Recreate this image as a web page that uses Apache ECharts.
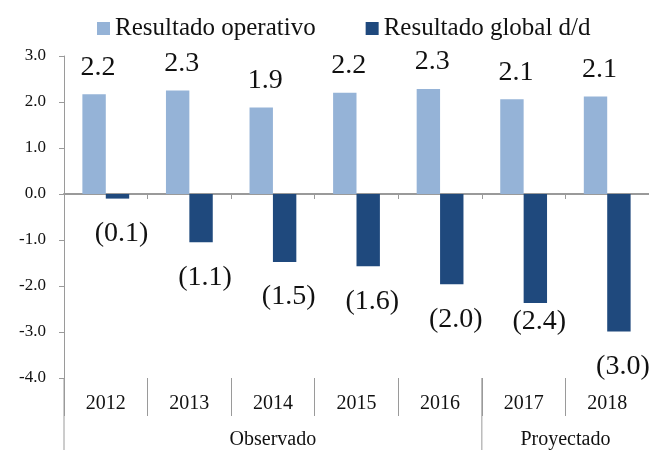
<!DOCTYPE html>
<html>
<head>
<meta charset="utf-8">
<script src="https://cdn.jsdelivr.net/npm/echarts@6/dist/echarts.min.js"></script>
<style>
    html,body{margin:0;padding:0;background:#fff;}
    #chart{width:649px;height:450px;}
</style>
</head>
<body>
<div id="chart"></div>
<script>
        var years = ["2012","2013","2014","2015","2016","2017","2018"];
        var operativo = [2.17, 2.25, 1.88, 2.20, 2.28, 2.06, 2.12];
        var globalDD = [-0.10, -1.05, -1.48, -1.57, -1.96, -2.37, -2.99];
        var seriesNames = ["Resultado operativo", "Resultado global d/d"];
        var groupNames = ["Observado", "Proyectado"];
        var yTicks = [-4, -3, -2, -1, 0, 1, 2, 3];

        var serif = "'Liberation Serif', 'DejaVu Serif', serif";
        var grey = "#9a9a9a";

        //etiqueta: negativos entre parentesis
        function fmtLabel(p){
            var v = p.value;
            if(v < 0){
                return "(" + Math.abs(v).toFixed(1) + ")";
            }
            return v.toFixed(1);
        }

        //en 2017 la etiqueta del resultado global esta subida a mano
        var globalData = globalDD.map(function(v, i){
            if(years[i] == "2017"){
                return {value: v, label: {offset: [4, -16]}};
            }
            return v;
        });

        var chart = echarts.init(document.getElementById('chart'));
        var option = {
            animation: false,
            textStyle: {fontFamily: serif},
            legend: {
                data: seriesNames,
                left: 92,
                top: 11,
                icon: 'rect',
                itemWidth: 13,
                itemHeight: 13,
                itemGap: 50,
                textStyle: {fontFamily: serif, fontSize: 25, color: '#111'}
            },
            grid: {left: 64, right: -4, top: 56, bottom: 72},
            xAxis: [
                {
                    type: 'category',
                    data: years,
                    axisLine: {onZero: true, lineStyle: {color: grey, width: 2}},
                    axisTick: {show: true, interval: 0, length: 5, lineStyle: {color: grey}},
                    axisLabel: {show: false}
                },
                {
                    type: 'category',
                    data: years,
                    position: 'bottom',
                    axisLine: {show: false, onZero: false},
                    axisTick: {show: true, interval: 0, length: 38, lineStyle: {color: grey}},
                    axisLabel: {
                        margin: 16,
                        fontFamily: serif,
                        fontSize: 20,
                        color: '#111'
                    }
                }
            ],
            yAxis: {
                type: 'value',
                min: yTicks[0],
                max: yTicks[yTicks.length - 1],
                interval: 1,
                splitLine: {show: false},
                axisLine: {show: true, lineStyle: {color: grey}},
                axisTick: {show: true, length: 5, lineStyle: {color: grey}},
                axisLabel: {
                    margin: 18,
                    fontFamily: serif,
                    fontSize: 17,
                    color: '#111',
                    formatter: function(v){ return v.toFixed(1); }
                }
            },
            series: [
                {
                    name: seriesNames[0],
                    type: 'bar',
                    data: operativo,
                    barGap: 0,
                    barCategoryGap: '44%',
                    itemStyle: {color: '#95B3D7'},
                    label: {
                        show: true,
                        position: 'top',
                        distance: 13,
                        offset: [4, 0],
                        fontFamily: serif,
                        fontSize: 28,
                        color: '#111',
                        formatter: fmtLabel
                    }
                },
                {
                    name: seriesNames[1],
                    type: 'bar',
                    data: globalData,
                    barGap: 0,
                    barCategoryGap: '44%',
                    itemStyle: {color: '#1F497D'},
                    label: {
                        show: true,
                        position: 'bottom',
                        distance: 21,
                        offset: [4, 0],
                        fontFamily: serif,
                        fontSize: 28,
                        color: '#111',
                        formatter: fmtLabel
                    }
                }
            ]
        };
        chart.setOption(option);

        //etiquetas de grupo y separadores largos, ubicados con la escala del eje
        function drawGroups(){
            var px = function(cat){ return chart.convertToPixel({xAxisIndex: 0}, cat); };
            var yBottom = chart.convertToPixel({yAxisIndex: 0}, yTicks[0]);
            var step = px(years[1]) - px(years[0]);
            var left = px(years[0]) - step / 2;
            var split = (px(years[4]) + px(years[5])) / 2;
            var right = px(years[6]) + step / 2;
            var h = chart.getHeight();
            chart.setOption({
                graphic: [
                    {type: 'line', shape: {x1: left, y1: yBottom, x2: left, y2: h}, style: {stroke: grey, lineWidth: 1}},
                    {type: 'line', shape: {x1: split, y1: yBottom, x2: split, y2: h}, style: {stroke: grey, lineWidth: 1}},
                    {type: 'text', x: (left + split) / 2, y: yBottom + 62, style: {text: groupNames[0], fill: '#111', font: '20px ' + serif, align: 'center', verticalAlign: 'middle'}},
                    {type: 'text', x: (split + right) / 2, y: yBottom + 62, style: {text: groupNames[1], fill: '#111', font: '20px ' + serif, align: 'center', verticalAlign: 'middle'}}
                ]
            });
        }
        drawGroups();
</script>
</body>
</html>
